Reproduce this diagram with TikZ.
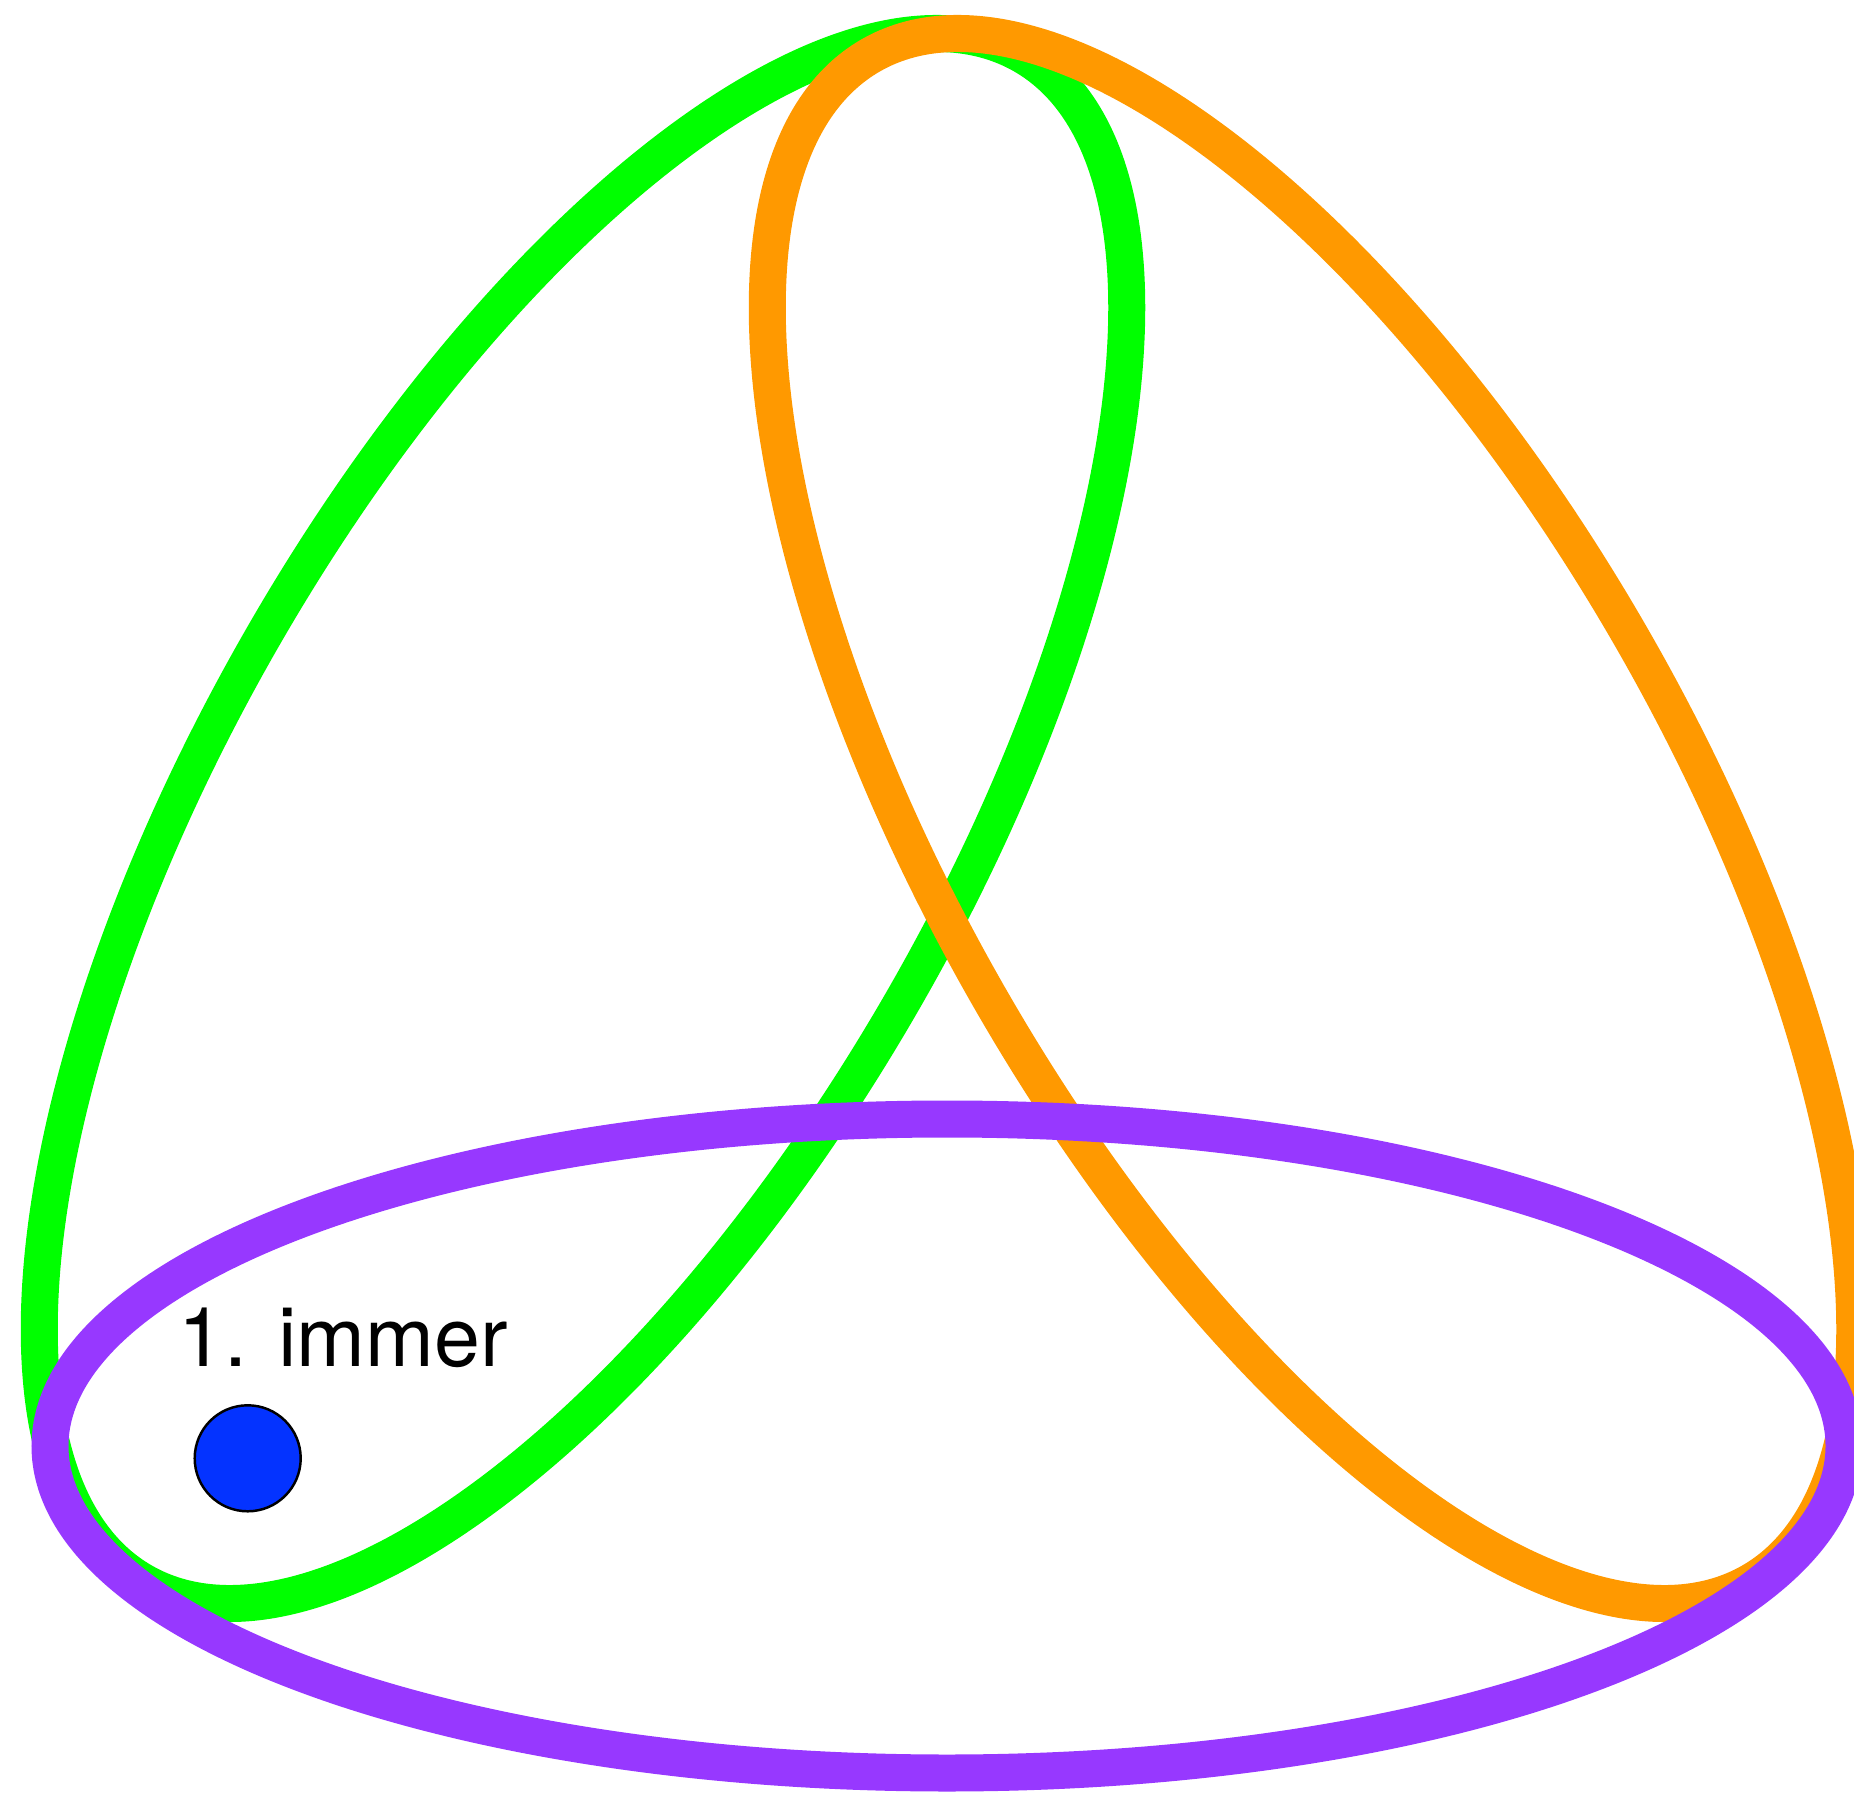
\documentclass[tikz,border=0pt]{standalone}
\usepackage{fontspec}
\setmainfont{TeX Gyre Heros}
\usetikzlibrary{positioning}

\definecolor{setgreen}{HTML}{00FF00}
\definecolor{setorange}{HTML}{FF9900}
\definecolor{setpurple}{HTML}{9738FF}
\definecolor{dotblue}{HTML}{0433FF}

\begin{document}
\begin{tikzpicture}[
    setline/.style={line width=0.37cm},
    marker/.style={circle, draw=black, line width=0.7pt, fill=dotblue, minimum size=1.06cm, inner sep=0pt},
    settext/.style={font=\fontsize{23.5}{28}\selectfont, inner sep=0pt, anchor=base west}
]
\clip (0,0) rectangle (18.54,17.92);

% the three sets
\draw[setline, setgreen, rotate around={60:(5.83,9.735)}] (5.83,9.735) ellipse [x radius=8.81, y radius=3.68];
\draw[setline, setorange, rotate around={-60:(13.11,9.735)}] (13.11,9.735) ellipse [x radius=8.81, y radius=3.68];
\draw[setline, setpurple] (9.47,3.46) ellipse [x radius=8.97, y radius=3.27];

% element
\node[settext] (step1) at (1.78,4.26) {1. immer};
\node[marker] (elem) at (2.477,3.337) {};
\end{tikzpicture}
\end{document}
